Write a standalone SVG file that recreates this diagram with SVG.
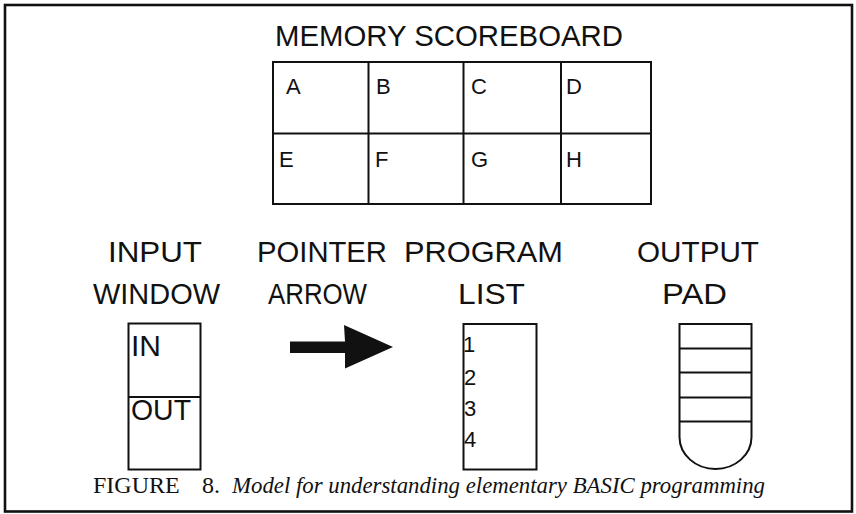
<svg xmlns="http://www.w3.org/2000/svg" width="856" height="514" viewBox="0 0 856 514">
<style>
.ln{fill:none;stroke:#111;stroke-width:2}
.lbl{font-family:"Liberation Sans",Arial,sans-serif;font-size:30px;fill:#111}
.cell{font-family:"Liberation Sans",Arial,sans-serif;font-size:22px;fill:#111}
.cap{font-family:"Liberation Serif","Times New Roman",serif;font-size:24px;fill:#111}
</style>
<rect width="856" height="514" fill="#fff"/>
<rect id="frame" x="5" y="5" width="847" height="506.5" fill="none" stroke="#111" stroke-width="2.6"/>

<g id="memory-scoreboard">
<text class="lbl" x="275" y="46" font-size="29" textLength="348" lengthAdjust="spacingAndGlyphs">MEMORY SCOREBOARD</text>
<rect class="ln" x="273" y="62" width="378" height="142"/>
<line class="ln" x1="273" y1="133.5" x2="651" y2="133.5"/>
<line class="ln" x1="368.5" y1="62" x2="368.5" y2="204"/>
<line class="ln" x1="463.5" y1="62" x2="463.5" y2="204"/>
<line class="ln" x1="561" y1="62" x2="561" y2="204"/>
<text class="cell" x="286" y="94">A</text>
<text class="cell" x="376" y="94">B</text>
<text class="cell" x="471" y="94">C</text>
<text class="cell" x="566" y="94">D</text>
<text class="cell" x="279" y="167">E</text>
<text class="cell" x="375" y="167">F</text>
<text class="cell" x="471" y="167">G</text>
<text class="cell" x="566" y="167">H</text>
</g>

<g id="input-window">
<text class="lbl" x="108" y="262" textLength="94" lengthAdjust="spacingAndGlyphs">INPUT</text>
<text class="lbl" x="93" y="304" textLength="127" lengthAdjust="spacingAndGlyphs">WINDOW</text>
<rect class="ln" x="128.5" y="323.5" width="72" height="146"/>
<line class="ln" x1="128.5" y1="397" x2="200.5" y2="397"/>
<text class="lbl" x="131" y="356" font-size="28">IN</text>
<text class="lbl" x="131" y="420" font-size="28" textLength="60" lengthAdjust="spacingAndGlyphs">OUT</text>
</g>

<g id="pointer-arrow">
<text class="lbl" x="257" y="262" textLength="130" lengthAdjust="spacingAndGlyphs">POINTER</text>
<text class="lbl" x="268" y="304" textLength="99" lengthAdjust="spacingAndGlyphs">ARROW</text>
<polygon points="290,341.5 345,341.5 344,325 393,347 345,368.5 345,353 290,353" fill="#111"/>
</g>

<g id="program-list">
<text class="lbl" x="404" y="262" textLength="159" lengthAdjust="spacingAndGlyphs">PROGRAM</text>
<text class="lbl" x="458" y="304" textLength="67" lengthAdjust="spacingAndGlyphs">LIST</text>
<rect class="ln" x="463.5" y="324" width="73" height="145.5"/>
<text class="cell" x="463" y="352">1</text>
<text class="cell" x="464" y="385">2</text>
<text class="cell" x="464" y="416">3</text>
<text class="cell" x="464" y="447">4</text>
</g>

<g id="output-pad">
<text class="lbl" x="637" y="262" textLength="122" lengthAdjust="spacingAndGlyphs">OUTPUT</text>
<text class="lbl" x="662" y="304" textLength="65" lengthAdjust="spacingAndGlyphs">PAD</text>
<path class="ln" d="M679.5,324 H751.5 V437 A36,32 0 0 1 679.5,437 Z"/>
<line class="ln" x1="679.5" y1="348.5" x2="751.5" y2="348.5"/>
<line class="ln" x1="679.5" y1="372.5" x2="751.5" y2="372.5"/>
<line class="ln" x1="679.5" y1="397.5" x2="751.5" y2="397.5"/>
<line class="ln" x1="679.5" y1="421.5" x2="751.5" y2="421.5"/>
</g>

<g id="caption">
<text class="cap" y="493"><tspan x="93">FIGURE</tspan><tspan x="202">8.</tspan><tspan x="232" font-size="22.5" font-style="italic" textLength="533" lengthAdjust="spacingAndGlyphs">Model for understanding elementary BASIC programming</tspan></text>
</g>
</svg>
